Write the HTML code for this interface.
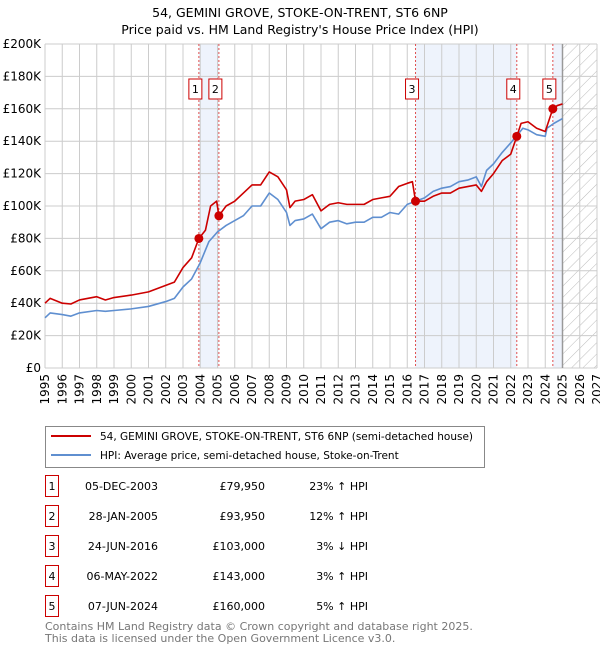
<!DOCTYPE html>
<html><head><meta charset="utf-8"><style>
body{margin:0;background:#fff;font-family:"Liberation Sans","DejaVu Sans",sans-serif;}
svg text{font-family:"DejaVu Sans","Liberation Sans",sans-serif;}
</style></head><body>
<svg id="c" width="600" height="650" xmlns="http://www.w3.org/2000/svg">
<defs><pattern id="hatch" width="8" height="8" patternUnits="userSpaceOnUse" patternTransform="rotate(45)"><line x1="0" y1="0" x2="0" y2="8" stroke="#bbb" stroke-width="1"/></pattern></defs>
<text x="300" y="17" text-anchor="middle" font-size="12.5" fill="#000">54, GEMINI GROVE, STOKE-ON-TRENT, ST6 6NP</text>
<text x="300" y="34" text-anchor="middle" font-size="12.5" fill="#000">Price paid vs. HM Land Registry's House Price Index (HPI)</text>
<g id="plot"></g>
<g>
<rect x="45.5" y="426.5" width="439" height="41" fill="#fff" stroke="#888"/>
<line x1="51" y1="436" x2="91" y2="436" stroke="#cc0000" stroke-width="2"/>
<text x="100" y="440" font-size="10.5">54, GEMINI GROVE, STOKE-ON-TRENT, ST6 6NP (semi-detached house)</text>
<line x1="51" y1="455" x2="91" y2="455" stroke="#5f8fd0" stroke-width="2"/>
<text x="100" y="459" font-size="10.5">HPI: Average price, semi-detached house, Stoke-on-Trent</text>
</g>
<g id="table" font-size="11"></g>
<text x="45" y="630" font-size="11" fill="#777">Contains HM Land Registry data © Crown copyright and database right 2025.</text>
<text x="45" y="642" font-size="11" fill="#777">This data is licensed under the Open Government Licence v3.0.</text>
</svg>
<script>
const hpiYears=[1995,1995.3,1996,1996.5,1997,1998,1998.5,1999,2000,2001,2002,2002.5,2003,2003.5,2004,2004.5,2005,2005.5,2006,2006.5,2007,2007.5,2008,2008.5,2009,2009.2,2009.5,2010,2010.5,2011,2011.5,2012,2012.5,2013,2013.5,2014,2014.5,2015,2015.5,2016,2016.5,2017,2017.5,2018,2018.5,2019,2019.5,2020,2020.3,2020.6,2021,2021.5,2022,2022.4,2022.7,2023,2023.5,2024,2024.1,2024.5,2025];
const hpiValues=[31,34,33,32,34,35.5,35,35.5,36.5,38,41,43,50,55,65,78,84,88,91,94,100,100,108,104,96,88,91,92,95,86,90,91,89,90,90,93,93,96,95,101,103,105,109,111,112,115,116,118,112,122,126,133,139,144,148,147,144,143,148,151,154];
const priceYears=[1995,1995.3,1996,1996.5,1997,1998,1998.5,1999,2000,2001,2002,2002.5,2003,2003.5,2003.92,2004.3,2004.6,2004.95,2005.08,2005.5,2006,2006.5,2007,2007.5,2008,2008.5,2009,2009.2,2009.5,2010,2010.5,2011,2011.5,2012,2012.5,2013,2013.5,2014,2014.5,2015,2015.5,2016,2016.3,2016.48,2017,2017.5,2018,2018.5,2019,2019.5,2020,2020.3,2020.6,2021,2021.5,2022,2022.35,2022.6,2023,2023.5,2024,2024.44,2024.7,2025];
const priceValues=[40,43,40,39.5,42,44,42,43.5,45,47,51,53,62,68,79.95,85,100,103,93.95,100,103,108,113,113,121,118,110,99,103,104,107,97,101,102,101,101,101,104,105,106,112,114,115,103,103,106,108,108,111,112,113,109,115,120,128,132,143,151,152,148,146,160,162,163];
const saleLabels=["1","2","3","4","5"];
const saleYears=[2003.92,2005.08,2016.48,2022.35,2024.44];
const salePrices=[79950,93950,103000,143000,160000];
const saleDates=["05-DEC-2003","28-JAN-2005","24-JUN-2016","06-MAY-2022","07-JUN-2024"];
const salePriceText=["£79,950","£93,950","£103,000","£143,000","£160,000"];
const saleHpiText=["23% ↑ HPI","12% ↑ HPI","3% ↓ HPI","3% ↑ HPI","5% ↑ HPI"];
const yTicks=[0,20,40,60,80,100,120,140,160,180,200];
const yTickLabels=["£0","£20K","£40K","£60K","£80K","£100K","£120K","£140K","£160K","£180K","£200K"];
const xTicks=[1995,1996,1997,1998,1999,2000,2001,2002,2003,2004,2005,2006,2007,2008,2009,2010,2011,2012,2013,2014,2015,2016,2017,2018,2019,2020,2021,2022,2023,2024,2025,2026,2027];

const NS="http://www.w3.org/2000/svg";
const L=45,R=597,T=44,B=368;
const x=y=>L+(y-1995)/(2027-1995)*(R-L);
const yv=v=>B-v/200*(B-T);
const g=document.getElementById('plot');
function mk(tag,attrs,parent){const e=document.createElementNS(NS,tag);for(const k in attrs)e.setAttribute(k,attrs[k]);(parent||g).appendChild(e);return e;}
for(let i=0;i<saleYears.length;i+=2){
  const x1=x(saleYears[i]),x2=i+1<saleYears.length?x(saleYears[i+1]):x(2025);
  const r=mk('rect',{x:x1,y:T,width:x2-x1,height:B-T,fill:'#eef3fc'});
  
  
}
const h=mk('rect',{x:x(2025),y:T,width:R-x(2025),height:B-T,fill:'url(#hatch)'});


yTicks.forEach((t,i)=>{
  const ln=mk('line',{x1:L,x2:R,y1:yv(t),y2:yv(t),stroke:'#ccc','stroke-width':1});
  
  
  const tx=mk('text',{x:L-4,y:yv(t)+4,'text-anchor':'end','font-size':12,fill:'#000'});
  tx.textContent=yTickLabels[i];
  
  
});
xTicks.forEach(t=>{
  const ln=mk('line',{x1:x(t),x2:x(t),y1:T,y2:B,stroke:'#ccc','stroke-width':1});
  
  
  const tx=mk('text',{x:0,y:0,'text-anchor':'end','font-size':12,transform:`translate(${x(t)+4},${B+6}) rotate(-90)`});
  tx.textContent=t;
  
  
});
const nl=mk('line',{x1:x(2025),x2:x(2025),y1:T,y2:B,stroke:'#999','stroke-width':1.5});


saleYears.forEach((s,i)=>{
  const ln=mk('line',{x1:x(s),x2:x(s),y1:T,y2:B,stroke:'#e05050','stroke-width':1,'stroke-dasharray':'2,2'});
  
  
  const bx=mk('rect',{x:x(s)-10,y:79,width:13,height:20,fill:'#fff',stroke:'#cc0000'});
  
  
  const tx=mk('text',{x:x(s)-3.5,y:93,'text-anchor':'middle','font-size':11});
  tx.textContent=saleLabels[i];
  
  
});
function line(xs,vs,col,name){
  const p=mk('polyline',{points:xs.map((t,i)=>x(t)+','+yv(vs[i])).join(' '),fill:'none',stroke:col,'stroke-width':1.6,'stroke-linejoin':'round'});
  
  
}
line(hpiYears,hpiValues,'#5f8fd0','hpi-line');
line(priceYears,priceValues,'#cc0000','price-line');
saleYears.forEach((s,i)=>{
  const c=mk('circle',{cx:x(s),cy:yv(salePrices[i]/1000),r:4.5,fill:'#cc0000'});
  
  
});
const tb=document.getElementById('table');
saleLabels.forEach((l,i)=>{
  const y0=476+i*30;
  const b=mk('rect',{x:45.5,y:y0-0.5,width:13,height:21,fill:'#fff',stroke:'#cc0000'},tb);
  
  
  const cells=[[52,'middle',l],[158,'end',saleDates[i]],[265,'end',salePriceText[i]],[368,'end',saleHpiText[i]]];
  cells.forEach(c=>{
    const t=mk('text',{x:c[0],y:y0+14,'text-anchor':c[1],'font-size':11},tb);
    t.textContent=c[2];
    
    
  });
});
</script>
</body></html>
